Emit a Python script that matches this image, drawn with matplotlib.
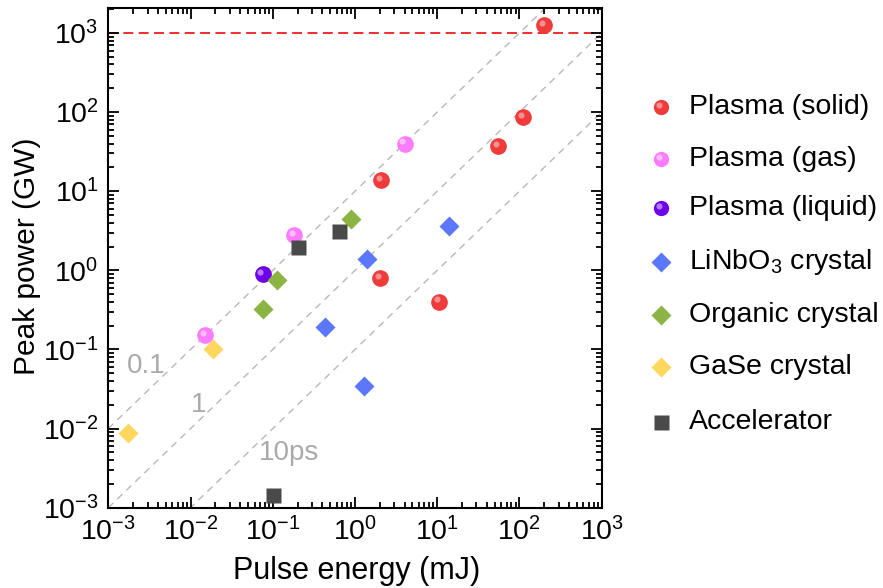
import matplotlib
matplotlib.use("Agg")
import matplotlib.pyplot as plt
import numpy as np
from matplotlib.lines import Line2D
from matplotlib.ticker import LogLocator, NullFormatter
import matplotlib.transforms as mtransforms

plt.rcParams['font.family'] = ['Liberation Sans', 'DejaVu Sans']
plt.rcParams['mathtext.fontset'] = 'custom'
plt.rcParams['mathtext.rm'] = 'Liberation Sans'
plt.rcParams['mathtext.it'] = 'Liberation Sans'
plt.rcParams['mathtext.bf'] = 'Liberation Sans'

# ---- data (pulse energy mJ, peak power GW) ----
solid_E = [200, 111, 55, 2.07, 2.02, 10.5]
solid_P = [1260, 87, 37, 13.9, 0.80, 0.40]
gas_E = [4.0, 0.183, 0.015]
gas_P = [40, 2.8, 0.151]
liquid_E = [0.075]
liquid_P = [0.89]
linbo3_E = [13.8, 1.40, 0.436, 1.30]
linbo3_P = [3.66, 1.39, 0.19, 0.0344]
organic_E = [0.90, 0.111, 0.076]
organic_P = [4.5, 0.747, 0.32]
gase_E = [0.019, 0.00172]
gase_P = [0.100, 0.00885]
acc_E = [0.20, 0.63, 0.10]
acc_P = [2.0, 3.14, 0.00144]

durations_ps = [0.1, 1, 10]
duration_labels = ["0.1", "1", "10ps"]
limit_P = 1000

legend_labels = ["Plasma (solid)", "Plasma (gas)", "Plasma (liquid)",
                 "LiNbO$_3$ crystal", "Organic crystal", "GaSe crystal", "Accelerator"]

W, H = 883, 588
fig = plt.figure(figsize=(W / 100, H / 100), dpi=100)
ax = fig.add_axes([0.1227, 0.1366, 0.5587, 0.8493])
ax.set_xscale('log')
ax.set_yscale('log')
xlim = (1e-3, 1e3)
ax.set_xlim(*xlim)
ax.set_ylim(1e-3, 2050)

# constant-duration lines
Eline = np.array(xlim)
for tau in durations_ps:
    ax.plot(Eline, Eline / tau, color='#b8b8b8', lw=1.0, dashes=(5, 4), zorder=1)
ax.axhline(limit_P, color='#ee1c1c', lw=1.3, dashes=(5.5, 3), zorder=1)

gray_txt = '#aaaaaa'
for lab, (px, py) in zip(duration_labels, [(127, 373), (191, 412), (259, 460)]):
    fig.text(px / W, 1 - py / H, lab, color=gray_txt, fontsize=20, ha='left', va='baseline')

def spheres(ax, E, P, color, hl, size=11):
    ax.plot(E, P, 'o', ms=size, color=color, mec=color, zorder=3, ls='none')
    tr = mtransforms.offset_copy(ax.transData, fig=fig, x=-1.7, y=1.7, units='points')
    ax.plot(E, P, 'o', ms=size * 0.4, color=hl, mec='none', alpha=0.8, zorder=4,
            transform=tr, ls='none')

spheres(ax, solid_E, solid_P, '#ef3b3b', '#f8a5a5')
spheres(ax, gas_E, gas_P, '#ff7cff', '#ffd0ff')
spheres(ax, liquid_E, liquid_P, '#7000e8', '#c49cf5')
ax.plot(linbo3_E, linbo3_P, 'D', ms=10.3, color='#5c76fc', mec='none', zorder=3, ls='none')
ax.plot(organic_E, organic_P, 'D', ms=10.3, color='#8bb443', mec='none', zorder=3, ls='none')
ax.plot(gase_E, gase_P, 'D', ms=10.3, color='#ffd75e', mec='none', zorder=3, ls='none')
ax.plot(acc_E, acc_P, 's', ms=10.8, color='#4a4a4a', mec='none', zorder=3, ls='none')

# ticks
for a in (ax.xaxis, ax.yaxis):
    a.set_major_locator(LogLocator(base=10, numticks=20))
    a.set_minor_locator(LogLocator(base=10, subs=np.arange(2, 10), numticks=20))
    a.set_minor_formatter(NullFormatter())

def fmt(v, pos):
    n = int(round(np.log10(v)))
    return r'10$^{%d}$' % n if n >= 0 else r'10$^{\mathregular{-}%d}$' % (-n)
ax.xaxis.set_major_formatter(plt.FuncFormatter(fmt))
ax.yaxis.set_major_formatter(plt.FuncFormatter(fmt))

ax.tick_params(which='both', direction='in', top=True, right=True, width=1.3, labelsize=20.5, colors='black')
ax.tick_params(which='major', length=8)
ax.tick_params(which='minor', length=4.5)
ax.tick_params(axis='x', pad=7)
ax.tick_params(axis='y', pad=7)
for s in ax.spines.values():
    s.set_linewidth(1.5)

# axis titles placed to match the reference
fig.text(357 / W, 1 - 579 / H, 'Pulse energy (mJ)', fontsize=22, ha='center', va='baseline')
fig.text(35 / W, 1 - 256 / H, 'Peak power (GW)', fontsize=21.5, ha='center', va='baseline',
         rotation=90, rotation_mode='anchor')

# manual legend
leg_y = [107, 159, 208, 262, 315, 367, 422]
mx, tx = 661, 689
styles = [('o', '#ef3b3b', '#f8a5a5', 11), ('o', '#ff7cff', '#ffd0ff', 11), ('o', '#7000e8', '#c49cf5', 11),
          ('D', '#5c76fc', None, 9.8), ('D', '#8bb443', None, 9.8), ('D', '#ffd75e', None, 9.8),
          ('s', '#4a4a4a', None, 10.8)]
for y, lab, (m, c, hl, ms) in zip(leg_y, legend_labels, styles):
    fx, fy = mx / W, 1 - y / H
    fig.add_artist(Line2D([fx], [fy], marker=m, ms=ms, color=c, mec='none', ls='none',
                          transform=fig.transFigure))
    if hl:
        fig.add_artist(Line2D([fx - 2.2 / W], [fy + 2.2 / H], marker='o', ms=ms * 0.4, color=hl,
                              mec='none', alpha=0.8, ls='none', transform=fig.transFigure))
    fig.text(tx / W, fy, lab, fontsize=20.5, va='center', ha='left')

fig.savefig('out.png', dpi=100)
